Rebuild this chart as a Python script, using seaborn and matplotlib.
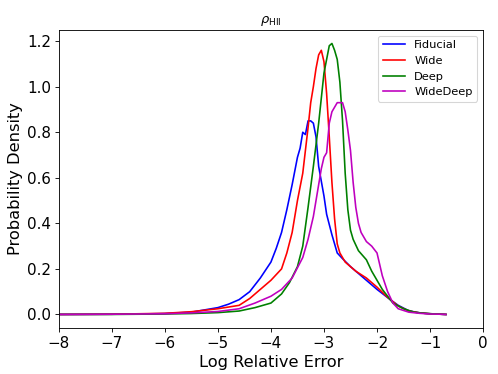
import numpy as np
import pandas as pd
import matplotlib
matplotlib.use('Agg')
import matplotlib.pyplot as plt
import seaborn as sns

# curves (x = log relative error, y = density)
fid_x = [-8, -7, -6.5, -6, -5.5, -5.0, -4.8, -4.6, -4.4, -4.2, -4.0, -3.9, -3.8, -3.7, -3.6,
         -3.55, -3.5, -3.45, -3.4, -3.35, -3.3, -3.25, -3.2, -3.15, -3.1, -3.0, -2.95, -2.85,
         -2.75, -2.65, -2.5, -2.25, -2.0, -1.75, -1.6, -1.4, -1.2, -1.0, -0.8, -0.7]
fid_y = [0, 0.001, 0.002, 0.004, 0.01, 0.03, 0.045, 0.065, 0.10, 0.16, 0.23, 0.29, 0.36, 0.46, 0.57,
         0.63, 0.69, 0.73, 0.80, 0.79, 0.85, 0.85, 0.84, 0.78, 0.65, 0.52, 0.44, 0.35,
         0.27, 0.245, 0.21, 0.16, 0.11, 0.065, 0.04, 0.016, 0.007, 0.003, 0.001, 0.0]

wide_x = [-8, -7, -6, -5.5, -5.0, -4.6, -4.4, -4.2, -4.0, -3.8, -3.7, -3.6, -3.5, -3.4, -3.35,
          -3.3, -3.25, -3.2, -3.15, -3.1, -3.05, -3.0, -2.95, -2.9, -2.85, -2.8, -2.75, -2.7,
          -2.6, -2.5, -2.4, -2.2, -2.0, -1.8, -1.6, -1.4, -1.2, -1.0, -0.8, -0.7]
wide_y = [0, 0.001, 0.005, 0.012, 0.025, 0.04, 0.07, 0.11, 0.15, 0.20, 0.27, 0.36, 0.50, 0.62, 0.72,
          0.82, 0.93, 1.0, 1.08, 1.14, 1.16, 1.11, 0.97, 0.78, 0.58, 0.42, 0.31, 0.27,
          0.23, 0.21, 0.19, 0.16, 0.12, 0.075, 0.037, 0.015, 0.007, 0.003, 0.001, 0.0]

deep_x = [-8, -7, -6, -5.5, -5, -4.6, -4.3, -4.0, -3.8, -3.65, -3.5, -3.4, -3.3, -3.2, -3.1,
          -3.0, -2.95, -2.9, -2.85, -2.8, -2.75, -2.7, -2.65, -2.6, -2.55, -2.5, -2.45, -2.35,
          -2.2, -2.1, -2.0, -1.9, -1.8, -1.7, -1.5, -1.3, -1.1, -0.9, -0.7]
deep_y = [0, 0.0, 0.002, 0.004, 0.008, 0.015, 0.03, 0.05, 0.09, 0.14, 0.21, 0.30, 0.47, 0.65, 0.84,
          1.06, 1.12, 1.18, 1.19, 1.16, 1.12, 1.02, 0.85, 0.62, 0.46, 0.37, 0.33, 0.28,
          0.24, 0.19, 0.15, 0.11, 0.08, 0.05, 0.025, 0.01, 0.005, 0.002, 0.0]

wd_x = [-8, -7, -6, -5.5, -5, -4.6, -4.3, -4.0, -3.8, -3.6, -3.4, -3.3, -3.2, -3.1, -3.05,
        -3.0, -2.95, -2.9, -2.85, -2.8, -2.75, -2.7, -2.65, -2.6, -2.55, -2.5, -2.45, -2.4,
        -2.35, -2.3, -2.2, -2.1, -2.0, -1.95, -1.9, -1.8, -1.7, -1.6, -1.4, -1.2, -1.0, -0.8, -0.7]
wd_y = [0, 0.001, 0.003, 0.007, 0.013, 0.025, 0.05, 0.08, 0.11, 0.16, 0.25, 0.33, 0.43, 0.57, 0.64,
        0.69, 0.71, 0.84, 0.89, 0.91, 0.93, 0.93, 0.93, 0.89, 0.81, 0.72, 0.58, 0.47,
        0.40, 0.36, 0.32, 0.30, 0.27, 0.22, 0.17, 0.10, 0.05, 0.025, 0.01, 0.005, 0.002, 0.001, 0.0]

series = [('Fiducial', fid_x, fid_y, 'b'),
          ('Wide', wide_x, wide_y, 'r'),
          ('Deep', deep_x, deep_y, 'g'),
          ('WideDeep', wd_x, wd_y, 'm')]

fig, ax = plt.subplots(figsize=(6.385, 4.795), dpi=78)
for name, xs, ys, c in series:
    sns.lineplot(x=xs, y=ys, label=name, color=c, linewidth=1.5, ax=ax)

ax.set_xlim(-8, 0)
ax.set_title(r'$\rho_{\rm HII}$', fontsize=12)
ax.set_xlabel('Log Relative Error', fontsize=15)
ax.set_ylabel('Probability Density', fontsize=15)
ax.tick_params(labelsize=14)
ax.legend(loc='upper right', fontsize=10.5)

plt.subplots_adjust(left=0.118, right=0.970, top=0.92, bottom=0.123)
plt.savefig('out.png', dpi=78)
